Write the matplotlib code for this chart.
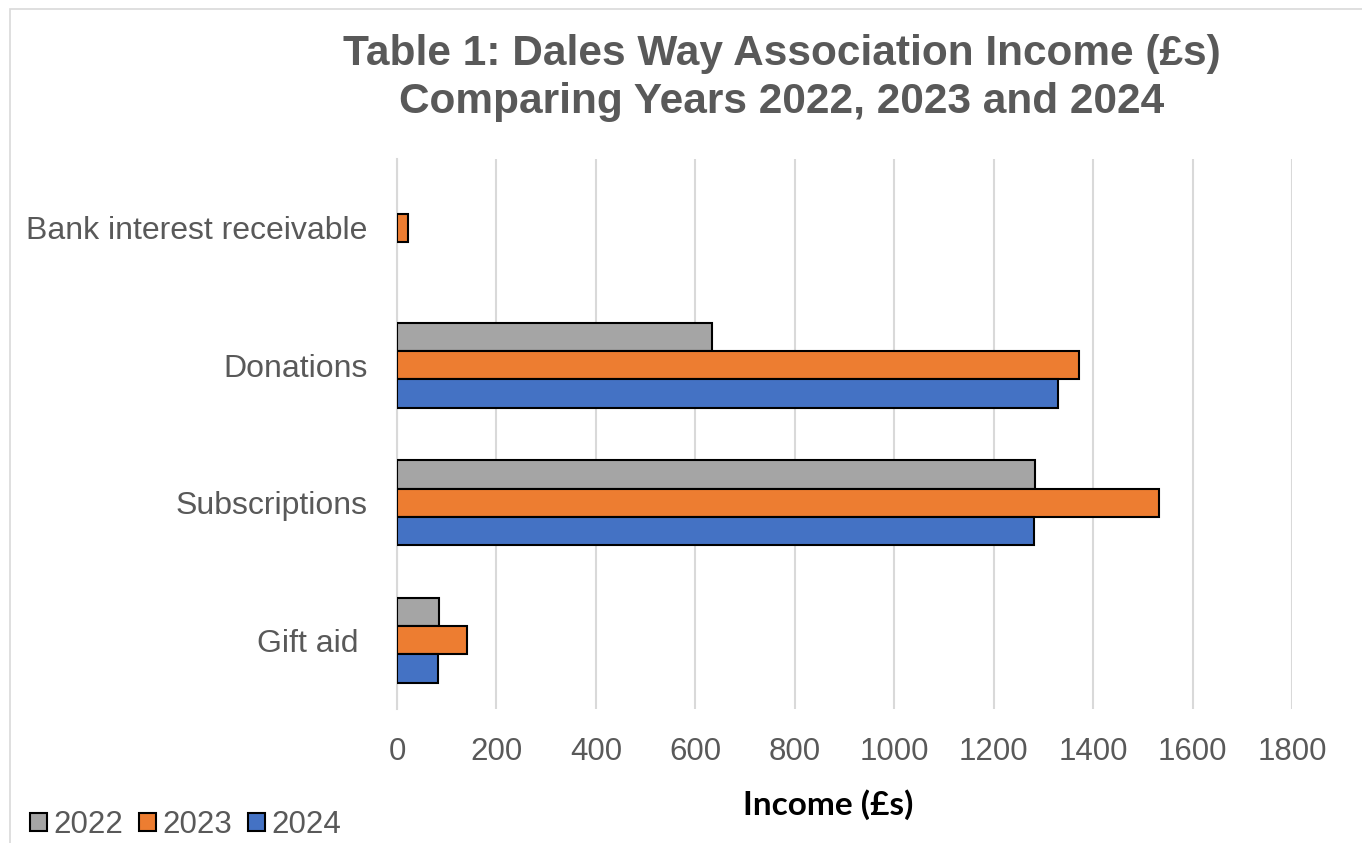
import matplotlib.pyplot as plt
import numpy as np
from matplotlib.patches import Rectangle

categories = ["Gift aid ", "Subscriptions", "Donations", "Bank interest receivable"]
years = ["2022", "2023", "2024"]
income_2022 = [84, 1283, 633, 0]
income_2023 = [141, 1533, 1372, 22]
income_2024 = [82, 1281, 1329, 0]
x_ticks = [0, 200, 400, 600, 800, 1000, 1200, 1400, 1600, 1800]

colors = {"2022": "#a5a5a5", "2023": "#ed7d31", "2024": "#4472c4"}
grey = "#595959"

plt.rcParams["font.family"] = ["Liberation Sans", "DejaVu Sans"]

fig = plt.figure(figsize=(13.62, 8.43), dpi=100)
ax = fig.add_axes([397 / 1362, 1 - 709 / 843, 895 / 1362, 550 / 843])

# chart frame
fig.patches.append(Rectangle((10 / 1362, -0.01), 1.1, 1 - 9 / 843 + 0.01,
                             transform=fig.transFigure, fill=False,
                             edgecolor="#d9d9d9", linewidth=1.2))

y = np.arange(len(categories))
h = 0.205
series = [income_2022, income_2023, income_2024]
offsets = [h, 0, -h]
for yr, vals, off in zip(years, series, offsets):
    vals = np.array(vals, dtype=float)
    mask = vals > 0
    ax.barh(y[mask] + off, vals[mask], height=h, color=colors[yr],
            edgecolor="black", linewidth=1.5, label=yr, zorder=3)

ax.set_xlim(0, 1800)
ax.set_ylim(-0.5, len(categories) - 0.5)
ax.set_xticks(x_ticks)
ax.set_xticklabels([str(t) for t in x_ticks])
ax.set_yticks(y)
ax.set_yticklabels(categories, fontsize=23)
ax.tick_params(axis="both", length=0, labelsize=22.5, colors=grey)
ax.tick_params(axis="y", labelsize=23, pad=21)
ax.tick_params(axis="x", pad=20)
ax.grid(axis="x", color="#d9d9d9", linewidth=1.5, zorder=0)
for s in ["top", "right", "bottom"]:
    ax.spines[s].set_visible(False)
ax.spines["left"].set_color("#d9d9d9")
ax.spines["left"].set_linewidth(1.5)

fig.text(782 / 1362, 1 - 78 / 843,
         "Table 1: Dales Way Association Income (£s)\nComparing Years 2022, 2023 and 2024",
         ha="center", va="center", fontsize=30.5, fontweight="bold", color=grey,
         linespacing=1.27)

fig.text(828 / 1362, 1 - 805 / 843, "Income (£s)", ha="center", va="center",
         fontsize=24, fontweight="bold", color="black", family=["Lato", "DejaVu Sans"])

handles, labels = ax.get_legend_handles_labels()
fig.legend(handles, labels, loc="center left", bbox_to_anchor=(30 / 1362, 1 - 825 / 843),
           ncol=3, frameon=False, fontsize=22.5, labelcolor=grey,
           handlelength=0.55, handleheight=0.55, handletextpad=0.2, columnspacing=0.5,
           borderaxespad=0, borderpad=0)

fig.savefig("out.png", dpi=100)
